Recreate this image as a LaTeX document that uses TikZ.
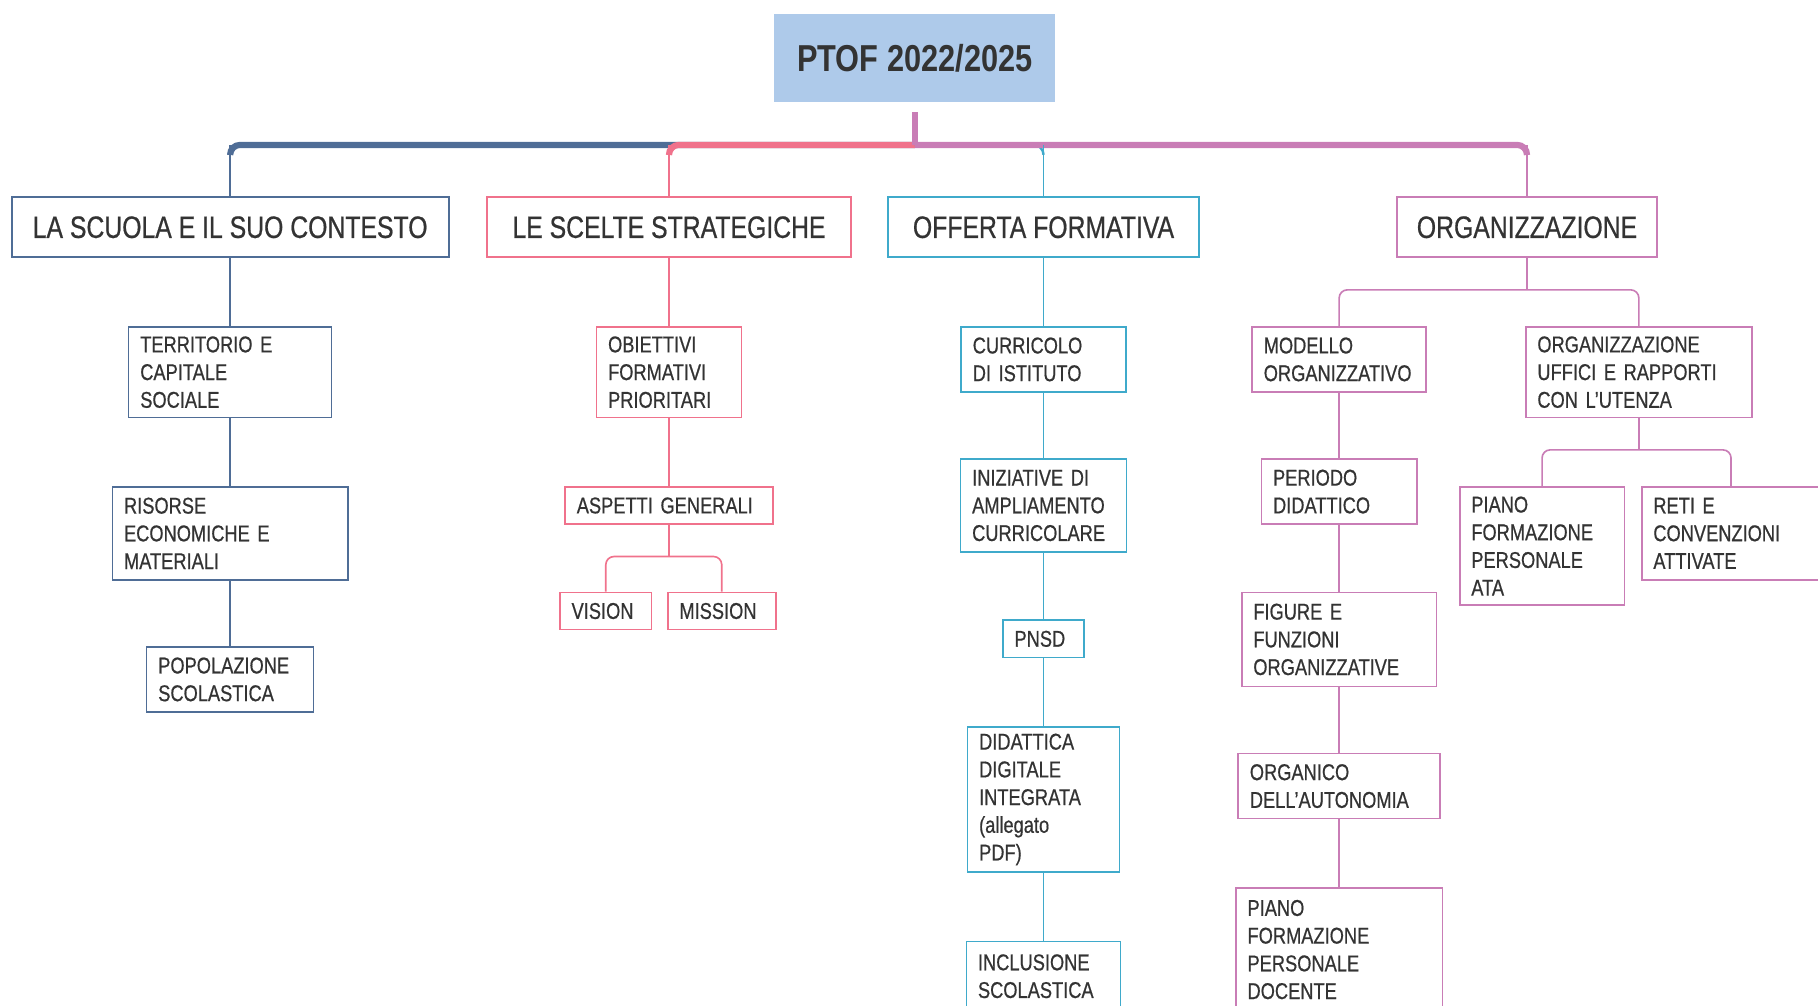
\documentclass[tikz,border=0pt]{standalone}
\usepackage{fontspec}
\setmainfont{Liberation Sans}[FakeStretch=0.8, FakeBold=0.6]
\newfontfamily\titlefont{Liberation Sans Bold}[FakeStretch=0.82]
\usetikzlibrary{positioning}

\definecolor{colA}{HTML}{4F6D96}
\definecolor{colB}{HTML}{F0728C}
\definecolor{colC}{HTML}{3FAACB}
\definecolor{colD}{HTML}{C97DB6}
\definecolor{titlefill}{HTML}{AECAEA}
\definecolor{txt}{HTML}{333333}

\newcommand{\headfont}{\fontsize{19}{22}\selectfont}
\newcommand{\subfont}{\fontsize{14}{17}\selectfont}

\begin{document}
\begin{tikzpicture}[x=0.025cm, y=-0.025cm]
    \tikzset{title/.style = {fill=titlefill, text=txt, minimum width=6.05cm, minimum height=1.9cm, font=\titlefont\fontsize{23}{26}\selectfont}}
    \tikzset{head/.style = {draw, line width=1.2pt, fill=white, text=txt, minimum height=1.3cm, font=\headfont}}
    \tikzset{box/.style = {draw, line width=1pt, fill=white, text=txt, align=left, inner xsep=0.25cm, inner ysep=0pt, font=\subfont}}
    \tikzset{bus/.style = {line width=3.8pt, rounded corners=6pt}}
    \tikzset{link/.style = {line width=1pt}}
    \useasboundingbox (0,0) rectangle (1568,867);
    % root
    \node[title] (ptof) at (789,50) {PTOF 2022/2025};
    % main sections
    \node[head, draw=colA, minimum width=9.425cm] (scuola) at (198.5,196) {LA SCUOLA E IL SUO CONTESTO};
    \node[head, draw=colB, minimum width=7.85cm] (scelte) at (577,196) {LE SCELTE STRATEGICHE};
    \node[head, draw=colC, minimum width=6.7cm] (offerta) at (900,196) {OFFERTA FORMATIVA};
    \node[head, draw=colD, minimum width=5.6cm] (organ) at (1317,196) {ORGANIZZAZIONE};
    % la scuola e il suo contesto
    \node[box, draw=colA, text width=3.875cm, minimum height=1.95cm] (territorio) at (198.5,321) {TERRITORIO E\\CAPITALE\\SOCIALE};
    \node[box, draw=colA, text width=4.575cm, minimum height=2cm] (risorse) at (198.5,460) {RISORSE\\ECONOMICHE E\\MATERIALI};
    \node[box, draw=colA, text width=3.1cm, minimum height=1.4cm] (popolazione) at (198.5,586) {POPOLAZIONE\\SCOLASTICA};
    % le scelte strategiche
    \node[box, draw=colB, text width=2.625cm, minimum height=1.95cm] (obiettivi) at (577,321) {OBIETTIVI\\FORMATIVI\\PRIORITARI};
    \node[box, draw=colB, text width=3.975cm, minimum height=0.8cm] (aspetti) at (577,436) {ASPETTI GENERALI};
    \node[box, draw=colB, text width=1.475cm, minimum height=0.8cm] (vision) at (522.5,527) {VISION};
    \node[box, draw=colB, text width=1.825cm, minimum height=0.8cm] (mission) at (622.5,527) {MISSION};
    % offerta formativa
    \node[box, draw=colC, text width=3.05cm, minimum height=1.4cm] (curricolo) at (900,310) {CURRICOLO\\DI ISTITUTO};
    \node[box, draw=colC, text width=3.075cm, minimum height=2cm] (iniziative) at (900,436) {INIZIATIVE DI\\AMPLIAMENTO\\CURRICOLARE};
    \node[box, draw=colC, text width=1.25cm, minimum height=0.8cm] (pnsd) at (900,551) {PNSD};
    \node[box, draw=colC, text width=2.775cm, minimum height=3.125cm] (ddi) at (900,689.5) {DIDATTICA\\DIGITALE\\INTEGRATA\\(allegato\\PDF)};
    \node[box, draw=colC, text width=2.825cm, minimum height=1.5cm] (inclusione) at (900,842) {INCLUSIONE\\SCOLASTICA};
    % organizzazione
    \node[box, draw=colD, text width=3.25cm, minimum height=1.4cm] (modello) at (1155,310) {MODELLO\\ORGANIZZATIVO};
    \node[box, draw=colD, text width=2.85cm, minimum height=1.4cm] (periodo) at (1155,424) {PERIODO\\DIDATTICO};
    \node[box, draw=colD, text width=3.7cm, minimum height=2.025cm] (figure) at (1155,551.5) {FIGURE E\\FUNZIONI\\ORGANIZZATIVE};
    \node[box, draw=colD, text width=3.85cm, minimum height=1.4cm] (organico) at (1155,678) {ORGANICO\\DELL'AUTONOMIA};
    \node[box, draw=colD, text width=3.95cm, minimum height=2.65cm] (docente) at (1155,819) {PIANO\\FORMAZIONE\\PERSONALE\\DOCENTE};
    \node[box, draw=colD, text width=4.375cm, minimum height=1.95cm] (uffici) at (1413.5,321) {ORGANIZZAZIONE\\UFFICI E RAPPORTI\\CON L'UTENZA};
    \node[box, draw=colD, text width=3.05cm, minimum height=2.55cm] (ata) at (1330,471) {PIANO\\FORMAZIONE\\PERSONALE\\ATA};
    \node[box, draw=colD, text width=3.35cm, minimum height=2cm] (reti) at (1493,460) {RETI E\\CONVENZIONI\\ATTIVATE};
    % top bus
    \coordinate (hub) at (789,125);
    \draw[bus, colA] (hub) -- (scuola.north |- hub) -- ++(0,8);
    \draw[bus, colB] (hub) -- (scelte.north |- hub) -- ++(0,8);
    \draw[bus, colC, line width=1.5pt] (hub) -- (offerta.north |- hub) -- ++(0,8);
    \draw[bus, colD] (hub) -- (organ.north |- hub) -- ++(0,8);
    \draw[line width=3.8pt, colD, shorten <=6pt] (ptof) -- (hub);
    \draw[link, colA] (scuola.north |- hub) -- (scuola);
    \draw[link, colB] (scelte.north |- hub) -- (scelte);
    \draw[link, colC] (offerta.north |- hub) -- (offerta);
    \draw[link, colD] (organ.north |- hub) -- (organ);
    % chains
    \draw[link, colA] (scuola) -- (territorio) -- (risorse) -- (popolazione);
    \draw[link, colB] (scelte) -- (obiettivi) -- (aspetti);
    \draw[link, colC] (offerta) -- (curricolo) -- (iniziative) -- (pnsd) -- (ddi) -- (inclusione);
    \draw[link, colD] (modello) -- (periodo) -- (figure) -- (organico) -- (docente);
    % forks
    \coordinate (forkB) at (577,480);
    \draw[link, colB] (aspetti) -- (forkB);
    \draw[link, colB, rounded corners=5pt] (vision.north) |- (forkB) -| (mission.north);
    \coordinate (forkD) at (1317,250);
    \draw[link, colD] (organ) -- (forkD);
    \draw[link, colD, rounded corners=5pt] (modello.north) |- (forkD) -| (uffici.north);
    \coordinate (forkU) at (1413.5,388);
    \draw[link, colD] (uffici) -- (forkU);
    \draw[link, colD, rounded corners=5pt] (ata.north) |- (forkU) -| (reti.north);
\end{tikzpicture}
\end{document}
